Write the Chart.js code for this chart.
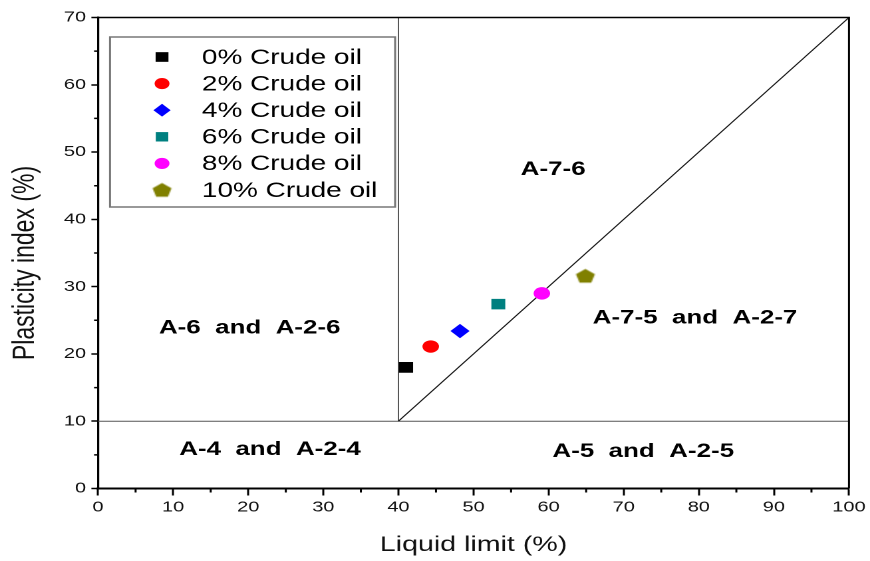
<!DOCTYPE html>
<html>
<head>
<meta charset="utf-8">
<script src="https://cdn.jsdelivr.net/npm/chart.js@4.4.1/dist/chart.umd.min.js"></script>
<style>
  html, body { margin: 0; padding: 0; background: #fff; overflow: hidden; }
  /* the reference is stretched sideways, so draw narrow and scale */
  #wrap { width: 654px; height: 561px; transform: scaleX(1.3303); transform-origin: 0 0; }
</style>
</head>
<body>
<div id="wrap"><canvas id="chart" width="654" height="561"></canvas></div>
<script>
// Data
const seriesNames = ['0% Crude oil', '2% Crude oil', '4% Crude oil', '6% Crude oil', '8% Crude oil', '10% Crude oil'];
const liquidLimit = [41.0, 44.3, 48.2, 53.3, 59.1, 64.9];
const plasticityIndex = [18.0, 21.1, 23.4, 27.4, 29.0, 31.6];
const markerColors = ['#000000', '#ff0000', '#0000ff', '#008080', '#ff00ff', '#808000'];
const markerShapes = ['rect', 'circle', 'rectRot', 'rect', 'circle', 'pentagon'];
const markerSizes = [7.6, 6.2, 7.2, 7.4, 6.2, 7.5];

// AASHTO boundaries
const aLineLL = [40, 100];
const aLinePI = [10, 70];
const llSplitLL = [40, 40];
const llSplitPI = [10, 70];
const piSplitLL = [0, 100];
const piSplitPI = [10, 10];

// zone labels
const zoneNames = ['A-7-6', 'A-6  and  A-2-6', 'A-7-5  and  A-2-7', 'A-4  and  A-2-4', 'A-5  and  A-2-5'];
const zoneLL = [60.6, 20.2, 79.5, 22.9, 72.6];
const zonePI = [47.4, 23.8, 25.3, 5.8, 5.5];

const xTitle = 'Liquid limit (%)';
const yTitle = 'Plasticity index (%)';
const FONT = '"Liberation Sans", Arial, Helvetica, sans-serif';

function pentagon(r) {
  const c = document.createElement('canvas');
  const s = Math.ceil(r * 2 + 2);
  c.width = s; c.height = s;
  const g = c.getContext('2d');
  g.fillStyle = '#808000';
  g.beginPath();
  for (let i = 0; i < 5; i++) {
    const a = -Math.PI / 2 + i * 2 * Math.PI / 5;
    const px = s / 2 + r * Math.cos(a), py = s / 2 + 0.6 + r * Math.sin(a);
    i ? g.lineTo(px, py) : g.moveTo(px, py);
  }
  g.closePath();
  g.fill();
  return c;
}

const styles = markerShapes.map((s, i) => s === 'pentagon' ? pentagon(markerSizes[i]) : s);

function line(xs, ys, color) {
  return {
    type: 'line',
    data: xs.map((x, i) => ({ x, y: ys[i] })),
    borderColor: color,
    borderWidth: 1,
    pointRadius: 0,
    showLine: true,
    order: 10,
  };
}

const datasets = [
  line(aLineLL, aLinePI, '#111'),
  line(llSplitLL, llSplitPI, '#555'),
  line(piSplitLL, piSplitPI, '#555'),
];
seriesNames.forEach((name, i) => {
  datasets.push({
    label: name,
    data: [{ x: liquidLimit[i], y: plasticityIndex[i] }],
    pointStyle: styles[i],
    pointRadius: markerSizes[i],
    backgroundColor: markerColors[i],
    borderWidth: 0,
    order: 1,
  });
});

// frame, minor ticks, zone labels, legend, axis titles
const extras = {
  id: 'extras',
  afterDraw(chart) {
    const { ctx, chartArea: a, scales: { x, y } } = chart;
    ctx.save();
    // top and right frame
    ctx.strokeStyle = '#000';
    ctx.lineWidth = 1.5;
    ctx.beginPath();
    ctx.moveTo(a.left, a.top); ctx.lineTo(a.right, a.top); ctx.lineTo(a.right, a.bottom);
    ctx.stroke();

    // minor ticks
    ctx.lineWidth = 1.5;
    ctx.beginPath();
    for (let v = 5; v < 100; v += 10) {
      const px = x.getPixelForValue(v);
      ctx.moveTo(px, a.bottom); ctx.lineTo(px, a.bottom + 4);
    }
    for (let v = 5; v < 70; v += 10) {
      const py = y.getPixelForValue(v);
      ctx.moveTo(a.left, py); ctx.lineTo(a.left - 3, py);
    }
    ctx.stroke();

    // zone labels
    ctx.fillStyle = '#000';
    ctx.font = 'bold 19.5px ' + FONT;
    ctx.textAlign = 'center';
    ctx.textBaseline = 'middle';
    zoneNames.forEach((t, i) => {
      ctx.fillText(t, x.getPixelForValue(zoneLL[i]), y.getPixelForValue(zonePI[i]));
    });

    // legend box
    const bx = 82.7, by = 37, bw = 214.3, bh = 170;
    ctx.strokeStyle = '#777';
    ctx.lineWidth = 1.5;
    ctx.strokeRect(bx, by, bw, bh);
    ctx.font = '21px ' + FONT;
    ctx.textAlign = 'left';
    seriesNames.forEach((name, i) => {
      const ry = 57 + i * 26.6;
      ctx.fillStyle = markerColors[i];
      Chart.helpers.drawPoint(ctx, { pointStyle: styles[i], radius: markerSizes[i] * 0.9, rotation: 0, borderWidth: 0 }, 121.8, ry);
      ctx.fillStyle = '#000';
      ctx.fillText(name, 151.8, ry + 1);
    });

    // axis titles
    ctx.fillStyle = '#111';
    ctx.font = '21.5px ' + FONT;
    ctx.textAlign = 'center';
    ctx.fillText(xTitle, (a.left + a.right) / 2, 545);
    ctx.font = '23px ' + FONT;
    ctx.translate(19, 263);
    ctx.rotate(-Math.PI / 2);
    ctx.fillText(yTitle, 0, 0);
    ctx.restore();
  }
};

new Chart(document.getElementById('chart'), {
  type: 'scatter',
  data: { datasets },
  options: {
    responsive: false,
    devicePixelRatio: 2,
    animation: false,
    layout: { padding: { top: 17.5, right: 15.8, left: 0, bottom: 0 } },
    plugins: { legend: { display: false }, tooltip: { enabled: false } },
    scales: {
      x: {
        type: 'linear', min: 0, max: 100,
        ticks: { stepSize: 10, color: '#111', font: { family: FONT, size: 15 }, padding: 3, maxRotation: 0 },
        grid: { drawOnChartArea: false, tickLength: 7, tickColor: '#000', tickWidth: 1.5 },
        border: { color: '#000', width: 2 },
        afterFit: s => { s.height = 72.5; },
      },
      y: {
        type: 'linear', min: 0, max: 70,
        ticks: { stepSize: 10, color: '#111', font: { family: FONT, size: 15 }, padding: 4 },
        grid: { drawOnChartArea: false, tickLength: 5, tickColor: '#000', tickWidth: 1.5 },
        border: { color: '#000', width: 1.6 },
        afterFit: s => { s.width = 73.7; },
      },
    },
  },
  plugins: [extras],
});
</script>
</body>
</html>
